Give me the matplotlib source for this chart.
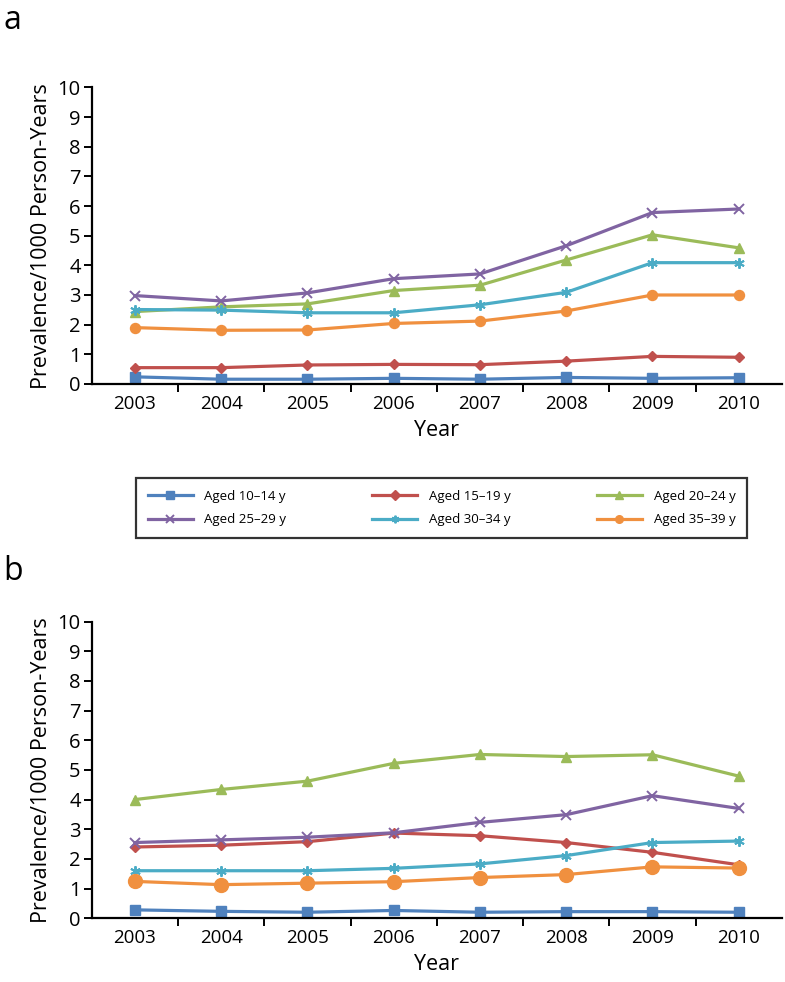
import matplotlib
matplotlib.use("Agg")
import matplotlib.pyplot as plt

plt.rcParams["font.family"] = ["Open Sans", "DejaVu Sans"]

years = ["2003", "2004", "2005", "2006", "2007", "2008", "2009", "2010"]
groups = ["Aged 10\u201314 y", "Aged 15\u201319 y", "Aged 20\u201324 y",
          "Aged 25\u201329 y", "Aged 30\u201334 y", "Aged 35\u201339 y"]

# panel a
a_10_14 = [0.24, 0.16, 0.16, 0.19, 0.16, 0.22, 0.19, 0.21]
a_15_19 = [0.55, 0.55, 0.64, 0.66, 0.65, 0.77, 0.93, 0.90]
a_20_24 = [2.44, 2.60, 2.70, 3.15, 3.33, 4.18, 5.03, 4.59]
a_25_29 = [2.98, 2.80, 3.07, 3.55, 3.71, 4.66, 5.78, 5.90]
a_30_34 = [2.51, 2.49, 2.40, 2.40, 2.67, 3.09, 4.09, 4.09]
a_35_39 = [1.90, 1.81, 1.82, 2.04, 2.12, 2.46, 3.00, 3.00]

# panel b
b_10_14 = [0.28, 0.23, 0.20, 0.26, 0.20, 0.22, 0.22, 0.20]
b_15_19 = [2.40, 2.46, 2.58, 2.87, 2.78, 2.55, 2.22, 1.80]
b_20_24 = [4.00, 4.34, 4.62, 5.22, 5.52, 5.45, 5.51, 4.79]
b_25_29 = [2.55, 2.64, 2.73, 2.88, 3.23, 3.49, 4.13, 3.70]
b_30_34 = [1.60, 1.60, 1.60, 1.68, 1.83, 2.11, 2.55, 2.60]
b_35_39 = [1.24, 1.13, 1.18, 1.23, 1.37, 1.47, 1.73, 1.69]

COLORS = ["#4F81BD", "#C0504D", "#9BBB59", "#8064A2", "#4BACC6", "#F0903F"]
MARKERS = ["s", "D", "^", "x", (6, 2, 0), "o"]
MSIZE = [6.5, 5, 7.5, 7, 7.5, 7.2]

fig = plt.figure(figsize=(7.85, 9.82), dpi=100)
ax_a = fig.add_axes([0.117, 0.609, 0.879, 0.302])
ax_b = fig.add_axes([0.117, 0.065, 0.879, 0.302])

handles = []
for ax, series, orange_ms in ((ax_a, [a_10_14, a_15_19, a_20_24, a_25_29, a_30_34, a_35_39], 7.2),
                              (ax_b, [b_10_14, b_15_19, b_20_24, b_25_29, b_30_34, b_35_39], 10)):
    x = range(len(years))
    hs = []
    for i, vals in enumerate(series):
        ms = orange_ms if i == 5 else MSIZE[i]
        h, = ax.plot(x, vals, color=COLORS[i], lw=2.3, marker=MARKERS[i], ms=ms,
                     mew=1.4 if i in (3, 4) else 1, mec=COLORS[i], label=groups[i])
        hs.append(h)
    if not handles:
        handles = hs
    ax.set_xlim(-0.5, 7.5)
    ax.set_ylim(0, 10)
    ax.set_yticks(range(0, 11))
    ax.set_xticks(list(x))
    ax.set_xticklabels(years, fontsize=13.5)
    # ticks sit between categories, excel style
    ax.set_xticks([k + 0.5 for k in range(7)], minor=True)
    ax.tick_params(axis="x", which="major", length=0, pad=8)
    ax.tick_params(axis="x", which="minor", length=6, width=1.4, direction="out")
    ax.tick_params(axis="y", labelsize=14.5, length=6, width=1.4, direction="out", pad=2)
    for s in ("top", "right"):
        ax.spines[s].set_visible(False)
    for s in ("left", "bottom"):
        ax.spines[s].set_linewidth(1.6)
    ax.set_xlabel("Year", fontsize=15.5, labelpad=5)
    ax.set_ylabel("Prevalence/1000 Person-Years", fontsize=15.5, labelpad=4)

fig.text(0.004, 0.996, "a", fontsize=23, va="top")
fig.text(0.004, 0.435, "b", fontsize=23, va="top")

# legend fills row-wise in the original, matplotlib fills column-wise
order = [0, 3, 1, 4, 2, 5]
leg = fig.legend([handles[k] for k in order], [groups[k] for k in order], ncol=3,
                 loc="lower left", bbox_to_anchor=(0.173, 0.452, 0.779, 0.067),
                 mode="expand", fontsize=9.5, handlelength=3.4, frameon=True,
                 fancybox=False, borderaxespad=0, borderpad=0.9, labelspacing=0.8,
                 handletextpad=0.9, columnspacing=0.5)
leg.get_frame().set_edgecolor("black")
leg.get_frame().set_linewidth(1.6)
for lh in leg.get_lines():
    lh.set_markersize(5.5)

fig.savefig("out.png", dpi=100)
